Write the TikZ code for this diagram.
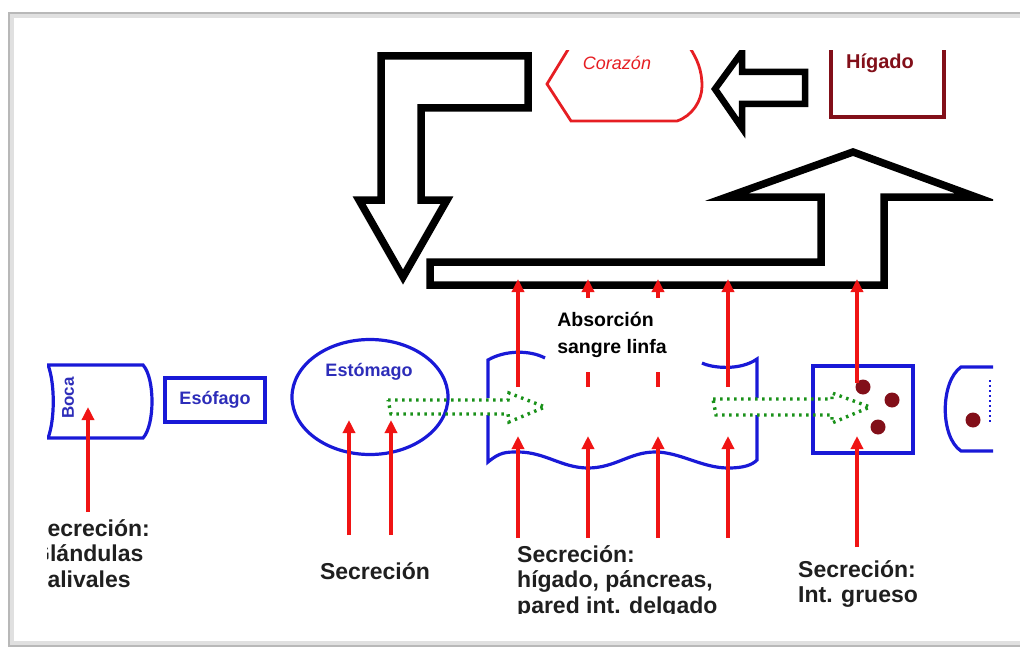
\documentclass[tikz,border=0pt]{standalone}
\usepackage{fontspec}
\setmainfont{Liberation Sans}
\usetikzlibrary{arrows.meta,shapes.geometric}
\definecolor{organblue}{RGB}{25,25,215}
\definecolor{textblue}{RGB}{45,45,185}
\definecolor{secred}{RGB}{240,20,20}
\definecolor{heartred}{RGB}{230,30,35}
\definecolor{liverred}{RGB}{130,15,25}
\definecolor{flowgreen}{RGB}{25,145,25}
\tikzset{
  organ/.style={draw=organblue,line width=3.2pt},
  organtext/.style={text=textblue,font=\bfseries\fontsize{18}{20}\selectfont},
  secretion/.style={draw=secred,line width=3.4pt,-{Triangle[length=13pt,width=12pt]}},
  blood/.style={draw=black,line width=7.5pt,line join=miter},
  food/.style={draw=flowgreen,line width=3.4pt,dash pattern=on 2.5pt off 4.5pt},
  lbl/.style={inner sep=0pt,align=left,text=black!88,font=\bfseries\fontsize{23}{25.5}\selectfont},
}
\begin{document}
\begin{tikzpicture}[x=1pt,y=-1pt]
\useasboundingbox (0,0) rectangle (1020,650);
% card
\draw[black!12,line width=6pt] (11,15) rectangle (1040,644);
\draw[black!28,line width=1.5pt] (9,13) rectangle (1040,646);
\begin{scope}
\clip (47,51) rectangle (993,613);
% blood route
\draw[blood] (381,56) -- (528,56) -- (528,108) -- (421,108) -- (421,200) -- (447,200)
  -- (403,277) -- (359,200) -- (381,200) -- cycle;
\draw[blood] (430,262) -- (821,262) -- (821,197) -- (727,197) -- (853,152) -- (976,197)
  -- (884,197) -- (884,285) -- (430,285) -- cycle;
\draw[blood,line width=6.5pt] (805,72) -- (742,72) -- (742,52) -- (715,89) -- (742,128)
  -- (742,104) -- (805,104) -- cycle;
% corazon, higado
\draw[heartred,line width=2.8pt] (569,48) -- (547,84) -- (571,121) -- (677,121)
  .. controls (692,116) and (702,101) .. (702,86) .. controls (702,70) and (697,59) .. (690,48);
\node[text=heartred,font=\itshape\fontsize{18}{20}\selectfont] (corazon) at (617,63) {Corazón};
\draw[liverred,line width=3.2pt] (831,48) -- (831,117) -- (944,117) -- (944,48);
\node[text=liverred,font=\bfseries\fontsize{20}{22}\selectfont] (higado) at (880,63) {Hígado};
% organs
\draw[organ] (48,365) -- (143,365) .. controls (155,378) and (155,425) .. (143,438)
  -- (48,438) .. controls (55,420) and (55,383) .. cycle;
\node[organtext,font=\bfseries\fontsize{17}{19}\selectfont,rotate=90] (boca) at (68,398) {Boca};
\node[organ,organtext,minimum width=100pt,minimum height=44pt] (esofago) at (215,400) {Esófago};
\node[organ,ellipse,minimum width=156pt,minimum height=115pt] (estomago) at (370,397) {};
\node[organtext] (estomago-t) at (369,372) {Estómago};
% intestino delgado
\draw[organ] (545,358) .. controls (530,350) and (505,350) .. (488,360) -- (488,398);
\draw[organ] (488,415) -- (488,462) .. controls (500,452) and (506,452) .. (518,452)
  .. controls (545,452) and (562,468) .. (588,468) .. controls (615,468) and (630,452) .. (655,452)
  .. controls (680,452) and (702,468) .. (728,468) .. controls (744,468) and (752,465) .. (757,460)
  -- (757,415);
\draw[organ] (702,363) .. controls (712,368) and (740,371) .. (757,359) -- (757,398);
% intestino grueso, recto
\node[organ,minimum width=100pt,minimum height=87pt] (grueso) at (863,409.5) {};
\draw[organ] (995,367) -- (961,367) .. controls (940,382) and (940,437) .. (961,451) -- (995,451);
\draw[organblue,line width=1.2pt,dash pattern=on 2pt off 3pt] (990,380) -- (990,422);
\foreach \x/\y in {863/387,892/400,878/427,973/420}
  \fill[liverred] (\x,\y) circle [radius=7.5];
% food
\draw[food] (388,400) -- (508,400) -- (509,393) -- (545,407) -- (509,422) -- (508,414)
  -- (391,414) -- cycle;
\draw[food] (713,399) -- (832,399) -- (832,393) -- (870,407) -- (832,423) -- (832,415)
  -- (716,415) -- cycle;
% secretion and absorption
\foreach \i/\x/\lo/\hi in {1/88/512/407,2/349/535/420,3/391/535/420,4/518/538/436,5/588/538/436,
  6/658/538/436,7/728/538/436,8/857/547/436,9/518/387/279,10/588/387/279,11/658/387/279,
  12/728/387/279,13/857/383/279} {
  \coordinate (lo-\i) at (\x,\lo);
  \coordinate (hi-\i) at (\x,\hi);
  \draw[secretion] (lo-\i) -- (hi-\i);
};
\node[fill=white,align=left,minimum height=74pt,inner xsep=2pt,
  font=\bfseries\fontsize{19.5}{27}\selectfont] (absorcion) at (612,335) {Absorción\\sangre linfa};
% labels
\node[lbl,anchor=north west] (sec-boca) at (32,519) {Secreción:\\Glándulas\\Salivales};
\node[lbl] (sec-estomago) at (375,571) {Secreción};
\node[lbl,anchor=north west] (sec-delgado) at (517,545) {Secreción:\\hígado, páncreas,\\pared int. delgado};
\node[lbl,anchor=north west] (sec-grueso) at (798,560) {Secreción:\\Int. grueso};
\end{scope}
\end{tikzpicture}
\end{document}
